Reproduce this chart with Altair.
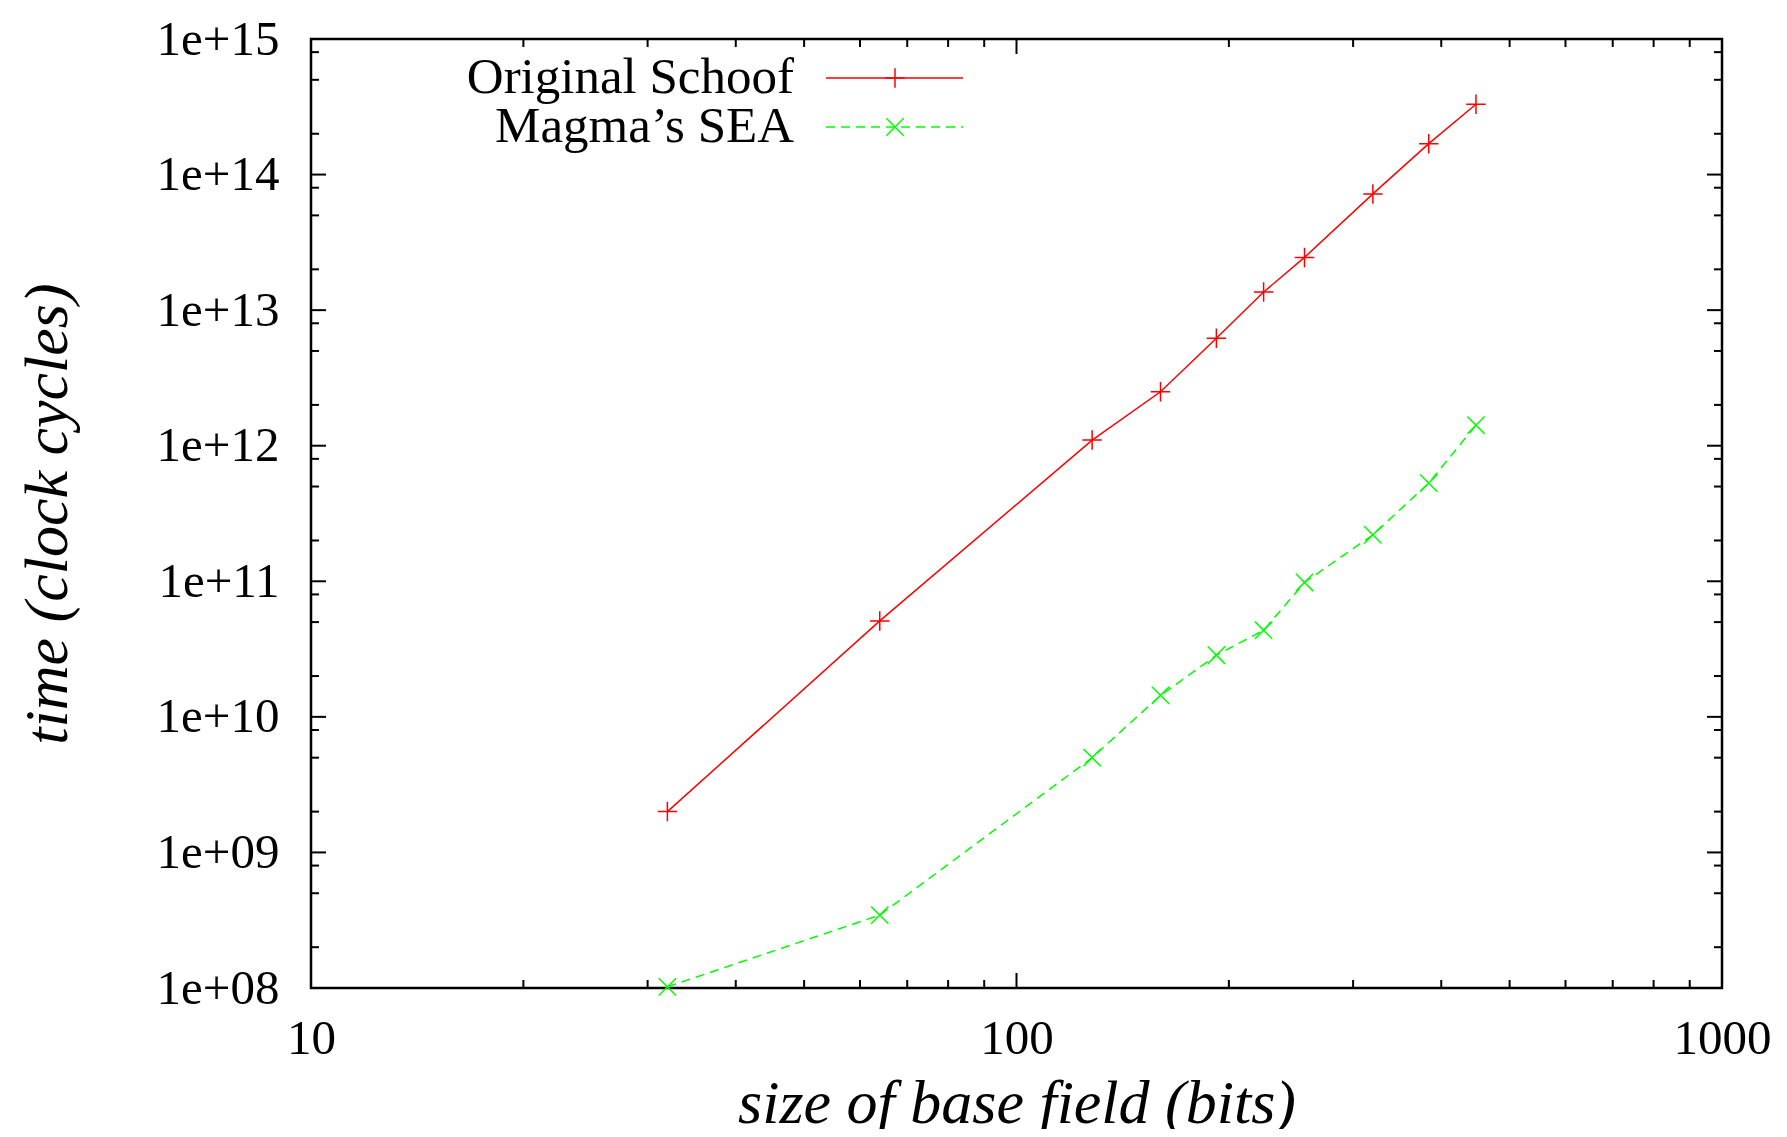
import altair as alt
import pandas as pd

# ---- data ----
bits = [32, 64, 128, 160, 192, 224, 256, 320, 384, 448]
schoof = [2.0e9, 5.1e10, 1.1e12, 2.5e12, 6.2e12, 1.36e13, 2.45e13, 7.2e13, 1.69e14, 3.3e14]
sea = [1.02e8, 3.45e8, 5.0e9, 1.44e10, 2.85e10, 4.35e10, 9.8e10, 2.2e11, 5.3e11, 1.42e12]
series_names = ["Original Schoof", "Magma\u2019s SEA"]

x_major = [10, 100, 1000]
x_minor = [20, 30, 40, 50, 60, 70, 80, 90, 200, 300, 400, 500, 600, 700, 800, 900]
y_exponents = [8, 9, 10, 11, 12, 13, 14, 15]
y_major = [10.0 ** e for e in y_exponents]
y_minor = [m * 10.0 ** e for e in y_exponents[:-1] for m in (2, 5, 8)]
y_tick_labels = ["1e+08", "1e+09", "1e+10", "1e+11", "1e+12", "1e+13", "1e+14", "1e+15"]

x_title = "size of base field (bits)"
y_title = "time (clock cycles)"

# ---- layout ----
W, H = 1411, 949
FONT = "Liberation Serif"
RED = "#ff0000"
GREEN = "#00ff00"
MAJ, MIN = 15, 8

xs = alt.Scale(type="log", domain=[10, 1000], nice=False)
ys = alt.Scale(type="log", domain=[1e8, 1e15], nice=False)

label_expr = "[" + ",".join("'%s'" % s for s in y_tick_labels) + "][round(log(datum.value)/LN10) - 8]"

xaxis = alt.Axis(values=x_major, format="d", ticks=False, domain=False, grid=False,
                 labelFont=FONT, labelFontSize=49, labelPadding=26, labelColor="black",
                 labelFlush=False, title=x_title, titleFont=FONT, titleFontStyle="italic",
                 titleFontWeight="normal", titleFontSize=62, titleColor="black",
                 titleBaseline="alphabetic", titleY=134)
yaxis = alt.Axis(values=y_major, labelExpr=label_expr, ticks=False, domain=False, grid=False,
                 labelFont=FONT, labelFontSize=49, labelPadding=32, labelColor="black",
                 labelFlush=False, labelBaseline="middle",
                 title=y_title, titleFont=FONT, titleFontStyle="italic",
                 titleFontWeight="normal", titleFontSize=62, titleColor="black",
                 titleBaseline="middle", titleX=-264, titleY=H / 2, titleAngle=-90)


def X(field):
    return alt.X(field + ":Q", scale=xs, axis=xaxis)


def Y(field):
    return alt.Y(field + ":Q", scale=ys, axis=yaxis)


df_s = pd.DataFrame({"bits": bits, "time": schoof})
df_g = pd.DataFrame({"bits": bits, "time": sea})

PLUS = "M-1,0L1,0M0,-1L0,1"
CROSS = "M-1,-1L1,1M-1,1L1,-1"

red_line = alt.Chart(df_s).mark_line(color=RED, strokeWidth=1.5).encode(x=X("bits"), y=Y("time"))
red_pts = alt.Chart(df_s).mark_point(shape=PLUS, size=380, filled=False, stroke=RED,
                                     strokeWidth=1.5, opacity=1).encode(x=X("bits"), y=Y("time"))
green_line = alt.Chart(df_g).mark_line(color=GREEN, strokeWidth=1.5, strokeDash=[9, 6]).encode(
    x=X("bits"), y=Y("time"))
green_pts = alt.Chart(df_g).mark_point(shape=CROSS, size=300, filled=False, stroke=GREEN,
                                       strokeWidth=1.5, opacity=1).encode(x=X("bits"), y=Y("time"))

# ---- inward ticks on all four sides (gnuplot style) ----
tick_layers = []
for vals, ln in ((x_major, MAJ), (x_minor, MIN)):
    d = pd.DataFrame({"v": vals})
    tick_layers.append(alt.Chart(d).mark_rule(color="black", strokeWidth=2).encode(
        x=X("v"), y=alt.value(H), y2=alt.value(H - ln)))
    tick_layers.append(alt.Chart(d).mark_rule(color="black", strokeWidth=2).encode(
        x=X("v"), y=alt.value(0), y2=alt.value(ln)))
for vals, ln in ((y_major, MAJ), (y_minor, MIN)):
    d = pd.DataFrame({"v": vals})
    tick_layers.append(alt.Chart(d).mark_rule(color="black", strokeWidth=2).encode(
        y=Y("v"), x=alt.value(0), x2=alt.value(ln)))
    tick_layers.append(alt.Chart(d).mark_rule(color="black", strokeWidth=2).encode(
        y=Y("v"), x=alt.value(W), x2=alt.value(W - ln)))

# ---- gnuplot-style key: text, then line sample with symbol ----
KEY_TX, KEY_X1, KEY_X2, KEY_SYM = 483, 515, 652, 584
KEY_Y = [39, 88]
key_layers = []
for i, (name, col, dash, shp, sz) in enumerate([
        (series_names[0], RED, [1, 0], PLUS, 380),
        (series_names[1], GREEN, [9, 6], CROSS, 300)]):
    d = pd.DataFrame({"label": [name]})
    key_layers.append(alt.Chart(d).mark_text(align="right", baseline="middle", font=FONT,
                                             fontSize=51, color="black").encode(
        text="label:N", x=alt.value(KEY_TX), y=alt.value(KEY_Y[i])))
    key_layers.append(alt.Chart(d).mark_rule(color=col, strokeWidth=1.5, strokeDash=dash).encode(
        x=alt.value(KEY_X1), x2=alt.value(KEY_X2), y=alt.value(KEY_Y[i])))
    key_layers.append(alt.Chart(d).mark_point(shape=shp, size=sz, filled=False, stroke=col,
                                              strokeWidth=1.5, opacity=1).encode(
        x=alt.value(KEY_SYM), y=alt.value(KEY_Y[i])))

chart = alt.layer(red_line, green_line, red_pts, green_pts, *tick_layers, *key_layers).properties(
    width=W, height=H,
    autosize=alt.AutoSizeParams(type="none"),
    padding={"left": 303, "top": 31, "right": 57, "bottom": 141},
    background="white",
).configure_view(stroke="black", strokeWidth=2.5)

chart.save("out.html", embed_options={"renderer": "svg", "actions": False})
